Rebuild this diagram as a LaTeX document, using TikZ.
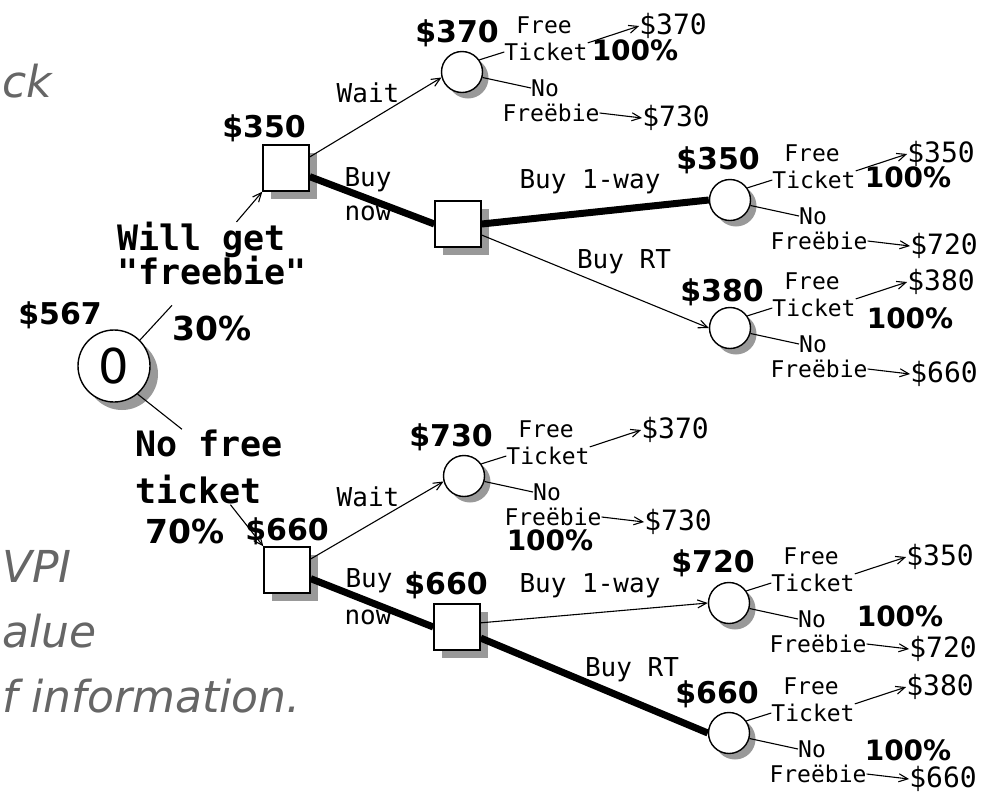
\documentclass[tikz,border=0pt]{standalone}
\usepackage{fontspec}
\setmainfont{DejaVu Sans}
\newfontfamily\monofont{DejaVu Sans Mono}
\usetikzlibrary{arrows.meta,positioning,shadows,calc}

\begin{document}
\begin{tikzpicture}[x=1pt, y=-1pt,
    decision/.style={draw, line width=1.4pt, fill=white, minimum size=46pt, inner sep=0pt,
      drop shadow={shadow xshift=8pt, shadow yshift=-8pt, fill=black!40, opacity=1}},
    chance/.style={draw, circle, line width=1.4pt, fill=white, minimum size=41pt, inner sep=0pt,
      drop shadow={shadow xshift=6pt, shadow yshift=-6pt, fill=black!40, opacity=1}},
    rootchance/.style={draw, circle, line width=1.4pt, fill=white, minimum size=72pt, inner sep=0pt,
      font=\fontsize{48}{48}\selectfont,
      drop shadow={shadow xshift=8pt, shadow yshift=-8pt, fill=black!40, opacity=1}},
    lbl/.style={font=\monofont\fontsize{23}{24}\selectfont, inner sep=0pt},
    br/.style={font=\monofont\fontsize{26}{27}\selectfont, inner sep=0pt},
    pay/.style={font=\monofont\fontsize{28}{29}\selectfont, inner sep=0pt},
    val/.style={font=\bfseries\fontsize{30}{31}\selectfont, inner sep=0pt},
    pct/.style={font=\bfseries\fontsize{28}{29}\selectfont, inner sep=0pt},
    big/.style={font=\monofont\bfseries\fontsize{35}{36}\selectfont, inner sep=0pt, anchor=west},
    bigpct/.style={font=\bfseries\fontsize{33}{34}\selectfont, inner sep=0pt, anchor=west},
    note/.style={font=\itshape\fontsize{44}{46}\selectfont, text=black!60, inner sep=0pt, anchor=base west},
    arrow/.style={-{Straight Barb[length=9pt,width=8pt]}, line width=1.1pt},
    heavy/.style={line width=7pt},
    tick/.style={line width=1.1pt}
  ]
    \useasboundingbox (0,0) rectangle (987,796);

    % notes along the left edge
    \node[note] (ck) at (2,97) {ck};
    \node[note] (vpi) at (2,582) {VPI};
    \node[note] (alue) at (2,647) {alue};
    \node[note] (info) at (2,712) {f information.};

    % root chance node
    \node[rootchance] (root) at (114,366) {0};
    \node[val] (v567) at (60,315) {\$567};
    \node[big] (willget) at (117,240) {Will get};
    \node[big] (freebie) at (117,271) {"freebie"};
    \node[bigpct] (p30) at (172,328) {30\%};
    \node[big] (nofree) at (135,443) {No free};
    \node[big] (tkt) at (135,490) {ticket};
    \node[bigpct] (p70) at (145,531) {70\%};

    % decisions
    \node[decision] (d1) at (286,168) {};
    \node[val] (v350a) at (264,128) {\$350};
    \node[decision] (d2) at (458,224) {};
    \node[decision] (d3) at (287,570) {};
    \node[val] (v660a) at (287,531) {\$660};
    \node[decision] (d4) at (457,627) {};
    \node[val] (v660b) at (446,585) {\$660};

    % chance nodes
    \node[chance] (c1) at (462,72) {};
    \node[val] (v370) at (457,33) {\$370};
    \node[chance] (c2) at (730,200) {};
    \node[val] (v350b) at (718,160) {\$350};
    \node[chance] (c3) at (730,328) {};
    \node[val] (v380) at (722,292) {\$380};
    \node[chance] (c4) at (464,476) {};
    \node[val] (v730) at (451,437) {\$730};
    \node[chance] (c5) at (729,603) {};
    \node[val] (v720) at (713,563) {\$720};
    \node[chance] (c6) at (729,733) {};
    \node[val] (v660c) at (717,694) {\$660};

    % branch labels
    \node[br] (wait1) at (368,93) {Wait};
    \node[br] (buy1) at (368,180) {Buy};
    \node[br] (now1) at (368,213) {now};
    \node[br] (oneway1) at (590,182) {Buy 1-way};
    \node[br] (rt1) at (624,262) {Buy RT};
    \node[br] (wait2) at (368,497) {Wait};
    \node[br] (buy2) at (369,581) {Buy};
    \node[br] (now2) at (368,617) {now};
    \node[br] (oneway2) at (590,586) {Buy 1-way};
    \node[br] (rt2) at (632,670) {Buy RT};

    % probabilities of the chosen outcomes
    \node[pct] (pc1) at (635,50) {100\%};
    \node[pct] (pc2) at (908,177) {100\%};
    \node[pct] (pc3) at (910,318) {100\%};
    \node[pct] (pc4) at (550,540) {100\%};
    \node[pct] (pc5) at (900,616) {100\%};
    \node[pct] (pc6) at (908,750) {100\%};

    % root branches
    \draw[tick] (root.45) -- ([yshift=10pt]p30.north west);
    \draw[arrow] ([xshift=35pt]willget.north) -- (d1.south west);
    \draw[tick] (root.-50) -- ([xshift=-27pt]nofree.north);
    \draw[arrow] ([xshift=32pt]tkt.south) -- (d3.north west);

    % decision branches
    \draw[arrow] (d1.25) -- (c1.195);
    \draw[heavy] (d1.-20) -- (d2.west);
    \draw[heavy] (d2.east) -- (c2.west);
    \draw[arrow] (d2.-25) -- (c3.west);
    \draw[arrow] (d3.25) -- (c4.195);
    \draw[heavy] (d3.-20) -- (d4.west);
    \draw[arrow] (d4.10) -- (c5.west);
    \draw[heavy] (d4.-25) -- (c6.west);

    % outcomes
    \foreach \c/\a/\b in {c1/370/730, c2/350/720, c3/380/660, c4/370/730, c5/350/720, c6/380/660} {
      \node[lbl] (\c-free) at ($(\c)+(82,-47)$) {Free};
      \node[lbl] (\c-tkt) at ($(\c)+(84,-20)$) {Ticket};
      \node[lbl] (\c-no) at ($(\c)+(83,16)$) {No};
      \node[lbl] (\c-fb) at ($(\c)+(89,41)$) {Freëbie};
      \node[pay] (\c-pt) at ($(\c)+(211,-46)$) {\$\a};
      \node[pay] (\c-pb) at ($(\c)+(214,46)$) {\$\b};
      \draw[tick] (\c.35) -- (\c-tkt.west);
      \draw[tick] (\c.-15) -- (\c-no.west);
      \draw[arrow] (\c-tkt.north east) -- (\c-pt.west);
      \draw[arrow] (\c-fb.east) -- (\c-pb.west);
    }
\end{tikzpicture}
\end{document}
